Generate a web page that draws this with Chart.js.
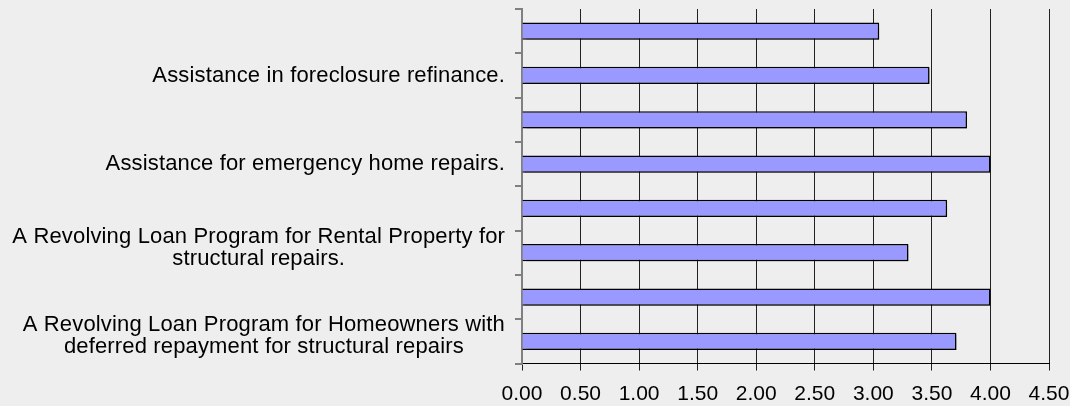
<!DOCTYPE html>
<html>
<head>
<meta charset="utf-8">
<script src="https://cdn.jsdelivr.net/npm/chart.js@4/dist/chart.umd.min.js"></script>
<style>
  html, body { margin: 0; padding: 0; background: #eeeeee; }
  #wrap { width: 1070px; height: 406px; }
</style>
</head>
<body>
<div id="wrap"><canvas id="ratingChart"></canvas></div>
<script>
// =============================
// DATA
// =============================
// top to bottom; every other label is hidden in the original
const categories = [
  "",
  "Assistance in foreclosure refinance.",
  "",
  "Assistance for emergency home repairs.",
  "",
  ["A Revolving Loan Program for Rental Property for", "structural repairs."],
  "",
  ["A Revolving Loan Program for Homeowners with", "deferred repayment for structural repairs"]
];
const scores = [3.05, 3.48, 3.80, 4.00, 3.63, 3.30, 4.00, 3.71];
const xTicksMin = 0;
const xTicksMax = 4.5;
const xTickStep = 0.5;

const FONT = "'Liberation Sans', Arial, sans-serif";

// =============================
// CATEGORY LABELS (lines centred, block right-aligned)
// =============================
const labelPlugin = {
  id: "blockLabels",
  afterDraw(chart) {
    let ctx = chart.ctx;
    let yScale = chart.scales.y;
    ctx.save();
    ctx.font = "22px " + FONT;
    ctx.letterSpacing = "0.15px";
    ctx.fillStyle = "#000";
    ctx.textAlign = "center";
    ctx.textBaseline = "middle";
    categories.forEach(function (lab, i) {
      let lines = Array.isArray(lab) ? lab : [lab];
      if (!lines[0]) return;
      let maxW = 0;
      lines.forEach(l => { maxW = Math.max(maxW, ctx.measureText(l).width); });
      let cx = yScale.right - 17 - maxW / 2;
      let cy = yScale.getPixelForValue(i) - (lines.length - 1) * 5;
      lines.forEach(function (l, k) {
        ctx.fillText(l, cx, cy + (k - (lines.length - 1) / 2) * 22);
      });
    });
    ctx.restore();
  }
};

// soft grey drop shadow under the bars
const shadowPlugin = {
  id: "barShadow",
  beforeDatasetsDraw(chart) {
    let ctx = chart.ctx;
    ctx.save();
    ctx.shadowColor = "rgba(0,0,0,0.3)";
    ctx.shadowOffsetX = 2;
    ctx.shadowOffsetY = 2;
    ctx.shadowBlur = 1;
  },
  afterDatasetsDraw(chart) {
    chart.ctx.restore();
  }
};

// =============================
// CHART
// =============================
new Chart(document.getElementById("ratingChart"), {
  type: "bar",
  data: {
    labels: categories,
    datasets: [{
      data: scores,
      backgroundColor: "#9999ff",
      borderColor: "#000000",
      borderWidth: 1.5,
      barPercentage: 0.39,
      categoryPercentage: 1
    }]
  },
  options: {
    indexAxis: "y",
    responsive: true,
    maintainAspectRatio: false,
    animation: false,
    layout: { padding: { top: 9, right: 21, bottom: 0, left: 0 } },
    plugins: {
      legend: { display: false },
      tooltip: { enabled: false }
    },
    scales: {
      x: {
        min: xTicksMin,
        max: xTicksMax,
        ticks: {
          stepSize: xTickStep,
          color: "#000",
          font: { family: FONT, size: 21 },
          padding: 11,
          maxRotation: 0,
          callback: v => Number(v).toFixed(2)
        },
        grid: { color: "#222222", lineWidth: 1, tickLength: 7 },
        border: { color: "#000", width: 1 },
        afterFit: s => {
          s.height = 42.5;
          s.paddingLeft = 0;
          s.paddingRight = 0;
        }
      },
      y: {
        offset: true,
        ticks: { display: false },
        grid: {
          offset: true,
          drawOnChartArea: false,
          color: "#808080",
          lineWidth: 2,
          tickLength: 7
        },
        border: { color: "#808080", width: 2 },
        afterFit: s => { s.width = 522; }
      }
    }
  },
  plugins: [shadowPlugin, labelPlugin]
});
</script>
</body>
</html>
